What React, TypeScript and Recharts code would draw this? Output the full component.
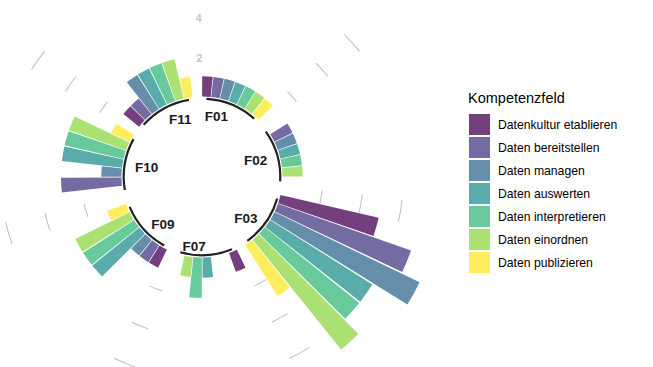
import React from 'react';
import { RadialBarChart, RadialBar, PolarAngleAxis, PolarRadiusAxis, Cell, PieChart, Pie } from 'recharts';

// ---------- data ----------
const felder = ['F01', 'F02', 'F03', 'F07', 'F09', 'F10', 'F11'];
const kompetenzfelder = [
  'Datenkultur etablieren',
  'Daten bereitstellen',
  'Daten managen',
  'Daten auswerten',
  'Daten interpretieren',
  'Daten einordnen',
  'Daten publizieren',
];
// values per field, in the order of kompetenzfelder (0 = no bar)
const werteF01 = [1, 1, 1, 1, 1, 1, 1];
const werteF02 = [0, 1, 1, 1, 1, 1, 0];
const werteF03 = [5, 7, 8, 6, 6, 7, 3];
const werteF07 = [1, 0, 0, 1, 2, 1, 0];
const werteF09 = [1, 1, 1, 3, 3, 3, 1];
const werteF10 = [0, 3, 1, 3, 3, 3, 1];
const werteF11 = [1, 1, 2, 2, 2, 2, 1];
const werteProFeld = [werteF01, werteF02, werteF03, werteF07, werteF09, werteF10, werteF11];

const gitterWerte = [2, 4, 6];
const skalenTicks = [2, 4];

// ---------- style ----------
const farben = ['#733F7F', '#736BA2', '#658EAA', '#59ACA9', '#68C99B', '#ABE173', '#FEED5C'];
const W = 653;
const H = 367;
const CX = 202;
const CY = 177;
const R_DOMAIN: [number, number] = [-4, 10];
const R_OUTER = 282;
const LEER = 1; // empty slots after each field
const FONT = '"Liberation Sans", Arial, sans-serif';

const rAt = (v: number) => (R_OUTER * (v - R_DOMAIN[0])) / (R_DOMAIN[1] - R_DOMAIN[0]);

// ---------- derived tables ----------
type Slot = { id: number; feld: string | null; kf: number | null; wert: number | null };
const slots: Slot[] = [];
felder.forEach((feld, g) => {
  werteProFeld[g].forEach((w, k) => {
    slots.push({ id: slots.length + 1, feld, kf: k, wert: w > 0 ? w : null });
  });
  for (let i = 0; i < LEER; i++) slots.push({ id: slots.length + 1, feld: null, kf: null, wert: null });
});
const SLOT_DEG = 360 / slots.length;

const nK = kompetenzfelder.length;
const arcData: { size: number; feld: string | null }[] = [{ size: 0.5, feld: null }];
felder.forEach((feld, g) => {
  arcData.push({ size: nK - 1, feld });
  arcData.push({ size: g < felder.length - 1 ? 1 + LEER : 0.5 + LEER, feld: null });
});

const gridData: { size: number; grid: boolean }[] = [];
felder.forEach((_, g) => {
  gridData.push({ size: nK, grid: false });
  gridData.push({ size: LEER, grid: g < felder.length - 1 });
});

const RAD = Math.PI / 180;

const renderFeldLabel = (p: any) => {
  const feld = (p.payload && p.payload.feld) || p.feld;
  if (!feld) return null;
  const r = 68;
  const x = p.cx + r * Math.cos(-p.midAngle * RAD);
  const y = p.cy + r * Math.sin(-p.midAngle * RAD);
  const cw = (((90 - p.midAngle) % 360) + 360) % 360;
  return (
    <text
      key={feld}
      x={x}
      y={y + 2}
      textAnchor={cw < 180 ? 'end' : 'start'}
      dominantBaseline="central"
      fontFamily={FONT}
      fontWeight="bold"
      fontSize={13.5}
      fill="#1a1a1a"
    >
      {feld}
    </text>
  );
};

const renderSkalaTick = (p: any) => (
  <text
    x={p.x}
    y={p.y + 2}
    textAnchor="middle"
    dominantBaseline="central"
    fontFamily={FONT}
    fontWeight="bold"
    fontSize={10.5}
    fill="#c4c4c4"
  >
    {p.payload && p.payload.value}
  </text>
);

export default function App() {
  return (
    <div style={{ position: 'fixed', left: 0, top: 0, width: W, height: H, background: '#fff', overflow: 'hidden' }}>
      <div style={{ position: 'absolute', left: 0, top: 0 }}>
        <PieChart width={W} height={H} margin={{ top: 0, right: 0, bottom: 0, left: 0 }}>
          {gitterWerte.map((v) => (
            <Pie
              key={'g' + v}
              data={gridData}
              dataKey="size"
              cx={CX}
              cy={CY}
              startAngle={90}
              endAngle={-270}
              innerRadius={rAt(v) - 0.5}
              outerRadius={rAt(v) + 0.5}
              stroke="none"
              isAnimationActive={false}
            >
              {gridData.map((d, i) => (
                <Cell key={i} fill={d.grid ? '#bdbdbd' : 'none'} stroke="none" />
              ))}
            </Pie>
          ))}
        </PieChart>
      </div>
      <div style={{ position: 'absolute', left: 0, top: 0 }}>
        <RadialBarChart
          width={W}
          height={H}
          data={slots}
          layout="centric"
          cx={CX}
          cy={CY}
          innerRadius={0}
          outerRadius={R_OUTER}
          startAngle={90 - SLOT_DEG}
          endAngle={-270 - SLOT_DEG}
          barCategoryGap="5%"
          margin={{ top: 0, right: 0, bottom: 0, left: 0 }}
        >
          <PolarAngleAxis type="category" dataKey="id" tick={false} axisLine={false} tickLine={false} />
          <PolarRadiusAxis
            type="number"
            domain={R_DOMAIN}
            ticks={skalenTicks}
            angle={91.2}
            axisLine={false}
            tickLine={false}
            orientation="middle"
            tick={renderSkalaTick}
          />
          <RadialBar dataKey="wert" isAnimationActive={false} stroke="none">
            {slots.map((s, i) => (
              <Cell key={i} fill={s.kf != null ? farben[s.kf] : 'none'} />
            ))}
          </RadialBar>
        </RadialBarChart>
      </div>
      <div style={{ position: 'absolute', left: 0, top: 0 }}>
        <PieChart width={W} height={H} margin={{ top: 0, right: 0, bottom: 0, left: 0 }}>
          <Pie
            data={arcData}
            dataKey="size"
            cx={CX}
            cy={CY}
            startAngle={90}
            endAngle={-270}
            innerRadius={rAt(0) - 3.4}
            outerRadius={rAt(0) - 1.2}
            stroke="none"
            label={renderFeldLabel}
            labelLine={false}
            isAnimationActive={false}
          >
            {arcData.map((d, i) => (
              <Cell key={i} fill={d.feld ? '#222222' : 'none'} stroke="none" />
            ))}
          </Pie>
        </PieChart>
      </div>
      <div style={{ position: 'absolute', left: 468, top: 90, fontFamily: FONT, color: '#000' }}>
        <div style={{ fontSize: 14.5, lineHeight: '17px', marginBottom: 6 }}>Kompetenzfeld</div>
        {kompetenzfelder.map((k, i) => (
          <div key={k} style={{ display: 'flex', alignItems: 'center', height: 23 }}>
            <div style={{ width: 21, height: 21, background: farben[i], marginLeft: 1 }} />
            <div style={{ fontSize: 12.2, marginLeft: 8, whiteSpace: 'nowrap' }}>{k}</div>
          </div>
        ))}
      </div>
    </div>
  );
}
